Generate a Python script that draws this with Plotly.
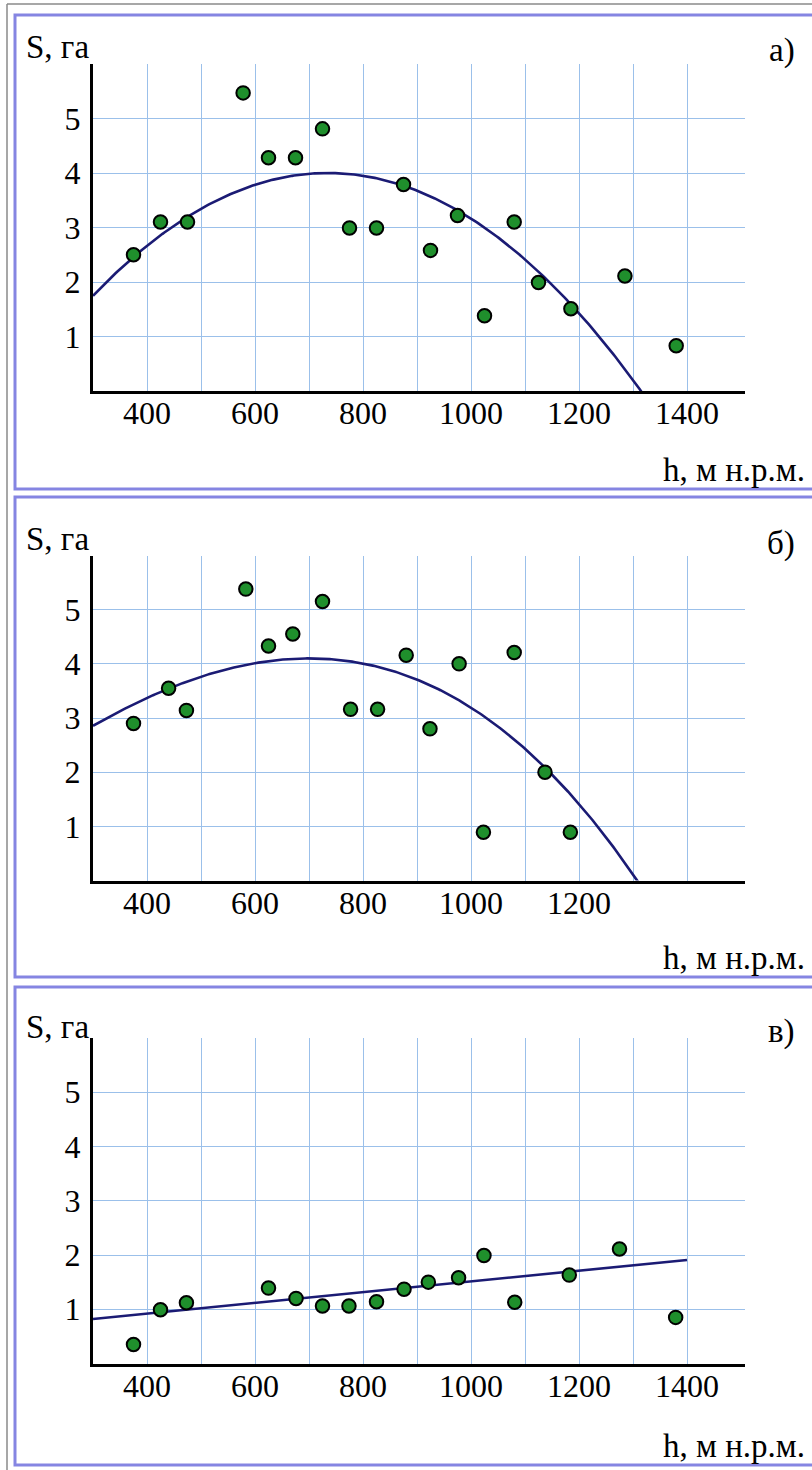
import numpy as np
import plotly.graph_objects as go

W, H = 812, 1470

# ---- data: altitude h (m a.s.l.) vs. area S (ha) ----
a_h = [375, 425, 475, 578, 625, 675, 725, 775, 825, 875, 925, 975, 1025, 1080, 1125, 1185, 1285, 1380]
a_s = [2.50, 3.10, 3.10, 5.47, 4.28, 4.28, 4.81, 2.99, 2.99, 3.79, 2.58, 3.22, 1.38, 3.10, 1.99, 1.51, 2.11, 0.83]

b_h = [375, 440, 473, 583, 625, 670, 725, 777, 827, 880, 924, 978, 1023, 1080, 1137, 1184]
b_s = [2.90, 3.55, 3.14, 5.38, 4.33, 4.55, 5.15, 3.16, 3.16, 4.16, 2.80, 4.00, 0.89, 4.21, 2.00, 0.89]

c_h = [375, 425, 473, 625, 676, 725, 774, 825, 876, 921, 977, 1024, 1081, 1182, 1275, 1379]
c_s = [0.35, 0.99, 1.12, 1.39, 1.20, 1.06, 1.06, 1.14, 1.37, 1.50, 1.58, 1.99, 1.13, 1.63, 2.11, 0.85]

# trend polynomials in u = (h - centre) / 100
trend_a = {"centre": 735, "coef": [-0.119, 0.0, 4.0], "h": [300, 1340]}
trend_b = {"centre": 700, "coef": [-0.0033, -0.091, 0.0, 4.1], "h": [300, 1340]}
trend_c = {"centre": 0, "coef": [0.099, 0.523], "h": [300, 1400]}

x_ticks_full = [400, 600, 800, 1000, 1200, 1400]
x_ticks_b = [400, 600, 800, 1000, 1200]
y_ticks = [1, 2, 3, 4, 5]
panel_tags = ["а)", "б)", "в)"]
y_title = "S, га"
x_title = "h, м н.р.м."

FONT = "Liberation Serif"
GRID = "rgb(155,192,234)"
DOT = "#1f8f2c"
CURVE = "#1b1b74"
FRAME = "#8585e2"
TICK_SIZE = 32
TITLE_SIZE = 33


def px(x):
    return x / W


def py(y):
    return 1 - y / H


X_RANGE = [300, 300 + 652 / 0.54]

# panel pixel geometry:
# (frame top, frame bottom, axis top, axis bottom, S-label y, tag y, h-label y)
panels = [
    (15, 489, 64, 391, 47, 50, 470),
    (497, 977, 555.5, 880.5, 539, 544, 958),
    (987, 1465, 1038, 1363.5, 1027, 1031, 1446),
]

fig = go.Figure()
fig.update_layout(
    template="none",
    width=W, height=H, margin=dict(l=0, r=0, t=0, b=0),
    paper_bgcolor="white", plot_bgcolor="white",
    font=dict(family=FONT, size=TICK_SIZE, color="black"),
)

series = [(a_h, a_s, trend_a, x_ticks_full),
          (b_h, b_s, trend_b, x_ticks_b),
          (c_h, c_s, trend_c, x_ticks_full)]

for i, ((hs, ss, tr, xt), (ft, fb, at, ab, sy, ty, hy)) in enumerate(zip(series, panels)):
    n = "" if i == 0 else str(i + 1)
    xa, ya = "x" + n, "y" + n
    grid_minor = [v for v in range(500, 1500, 100) if v not in xt]

    fig.layout["xaxis" + n] = dict(
        domain=[px(93), px(745)], anchor=ya, range=X_RANGE,
        tickmode="array", tickvals=xt, ticktext=[str(v) for v in xt],
        showgrid=True, gridcolor=GRID, gridwidth=1.3,
        minor=dict(tickmode="array", tickvals=grid_minor, showgrid=True,
                   gridcolor=GRID, gridwidth=1.3, ticks=""),
        showline=True, linecolor="black", linewidth=3,
        ticks="", zeroline=False, ticklabelstandoff=-8,
        tickfont=dict(family=FONT, size=TICK_SIZE, color="black"),
        fixedrange=True,
    )
    fig.layout["yaxis" + n] = dict(
        domain=[py(ab), py(at)], anchor=xa, range=[0, 6],
        tickmode="array", tickvals=y_ticks, ticktext=[str(v) for v in y_ticks],
        showgrid=True, gridcolor=GRID, gridwidth=1.3,
        showline=True, linecolor="black", linewidth=3,
        ticks="outside", ticklen=3, tickcolor="rgba(0,0,0,0)", zeroline=False,
        tickfont=dict(family=FONT, size=TICK_SIZE, color="black"),
        fixedrange=True,
    )

    hh = np.linspace(tr["h"][0], tr["h"][1], 300)
    uu = (hh - tr["centre"]) / 100 if tr["centre"] else hh / 100
    fig.add_trace(go.Scatter(
        x=hh, y=np.polyval(tr["coef"], uu), mode="lines",
        line=dict(color=CURVE, width=2.6), xaxis=xa, yaxis=ya,
        hoverinfo="skip", showlegend=False,
    ))
    fig.add_trace(go.Scatter(
        x=hs, y=ss, mode="markers",
        marker=dict(size=13.5, color=DOT, line=dict(color="black", width=2)),
        xaxis=xa, yaxis=ya, showlegend=False, cliponaxis=False,
    ))

    # panel frame
    fig.add_shape(type="rect", xref="paper", yref="paper",
                  x0=px(15), x1=px(818), y0=py(fb), y1=py(ft),
                  line=dict(color=FRAME, width=3), layer="below")

    fig.add_annotation(text=y_title, xref="paper", yref="paper",
                       x=px(24), y=py(sy), xanchor="left", yanchor="middle",
                       showarrow=False, font=dict(family=FONT, size=TITLE_SIZE, color="black"))
    fig.add_annotation(text=panel_tags[i], xref="paper", yref="paper",
                       x=px(797), y=py(ty), xanchor="right", yanchor="middle",
                       showarrow=False, font=dict(family=FONT, size=TITLE_SIZE, color="black"))
    fig.add_annotation(text=x_title, xref="paper", yref="paper",
                       x=px(807), y=py(hy), xanchor="right", yanchor="middle",
                       showarrow=False, font=dict(family=FONT, size=TITLE_SIZE, color="black"))

# outer thin grey frame
fig.add_shape(type="line", xref="paper", yref="paper", x0=px(7), x1=px(7), y0=0, y1=py(4),
              line=dict(color="#8a8a8a", width=1.5))
fig.add_shape(type="line", xref="paper", yref="paper", x0=px(7), x1=1, y0=py(4), y1=py(4),
              line=dict(color="#8a8a8a", width=1.5))

fig.write_html("out.html")
